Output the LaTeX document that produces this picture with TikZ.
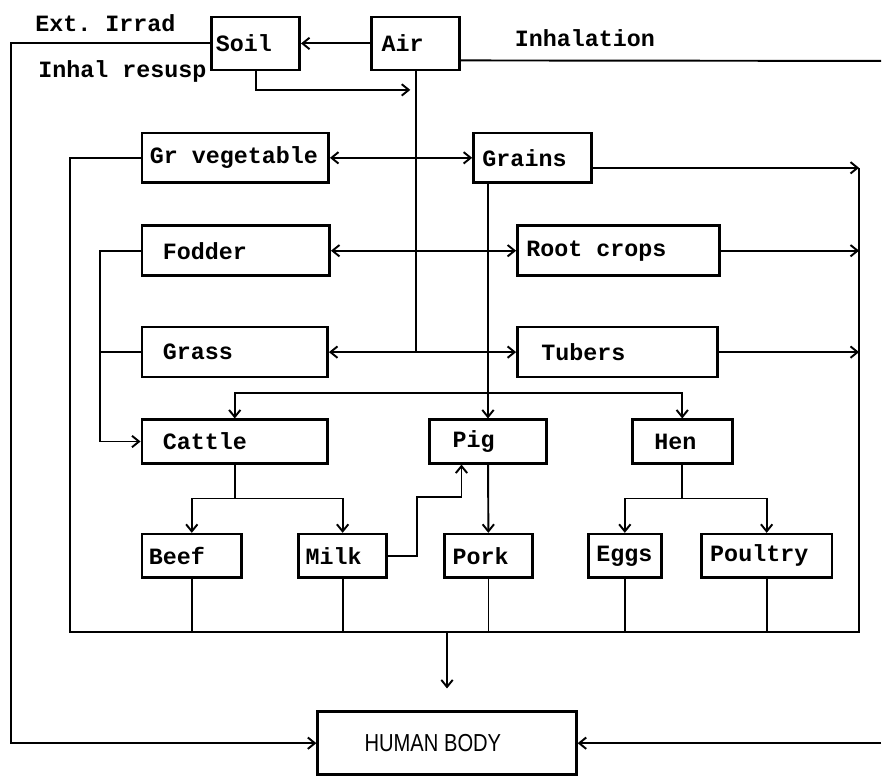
\documentclass[tikz,border=0pt]{standalone}
\usepackage{fontspec}
\usetikzlibrary{arrows.meta}
\newfontfamily\dotfont{Liberation Mono}
\newfontfamily\bodyfont[FakeStretch=0.82]{Liberation Sans}

\begin{document}
\begin{tikzpicture}[x=0.02cm,y=-0.02cm,
  every node/.style={font=\dotfont\bfseries\fontsize{13.3}{15}\selectfont},
  box/.style={draw,line width=1.5pt,inner ysep=0pt,
    execute at begin node={\spaceskip=0pt\xspaceskip=0pt}},
  hi/.style={minimum height=1cm},
  lo/.style={minimum height=0.87cm},
  lbl/.style={anchor=base west,inner sep=0pt},
  ln/.style={line width=1.1pt},
  arr/.style={ln,-{Straight Barb[length=4pt,width=6.5pt]}},
  both/.style={ln,{Straight Barb[length=4pt,width=6.5pt]}-{Straight Barb[length=4pt,width=6.5pt]}}]
  \fill[white] (0,0) rectangle (882,777);
  \node[box,text width=1.6cm,inner xsep=0.08cm,minimum height=1.06cm] (soil) at (256,43.5) {Soil};
  \node[box,text width=1.36cm,inner xsep=0.2cm,minimum height=1.06cm] (air) at (416,43.5) {Air};
  \node[box,hi,text width=3.42cm,inner xsep=0.16cm] (grveg) at (235.5,158) {Gr vegetable};
  \node[box,hi,text width=2cm,inner xsep=0.18cm] (grains) at (533,158) {Grains};
  \node[box,hi,text width=2.92cm,inner xsep=0.42cm] (fodder) at (236,251) {Fodder};
  \node[box,hi,text width=3.68cm,inner xsep=0.18cm] (roots) at (619,251) {Root crops};
  \node[box,hi,text width=2.88cm,inner xsep=0.42cm] (grass) at (235,352.5) {Grass};
  \node[box,hi,text width=3.04cm,inner xsep=0.48cm] (tubers) at (618,352.5) {Tubers};
  \node[box,lo,text width=2.88cm,inner xsep=0.42cm] (cattle) at (235,442) {Cattle};
  \node[box,lo,text width=1.42cm,inner xsep=0.46cm] (pig) at (488.5,442) {Pig};
  \node[box,lo,text width=1.12cm,inner xsep=0.44cm] (hen) at (683,442) {Hen};
  \node[box,lo,text width=1.72cm,inner xsep=0.14cm] (beef) at (192,556.5) {Beef};
  \node[box,lo,text width=1.48cm,inner xsep=0.14cm] (milk) at (343,556.5) {Milk};
  \node[box,lo,text width=1.44cm,inner xsep=0.16cm] (pork) at (489,556.5) {Pork};
  \node[box,lo,text width=1.14cm,inner xsep=0.16cm] (eggs) at (625.5,556.5) {Eggs};
  \node[box,lo,text width=2.26cm,inner xsep=0.18cm] (poultry) at (767.5,556.5) {Poultry};
  \node[box,text width=3.3cm,inner xsep=0.94cm,minimum height=1.26cm,
    font=\bodyfont\fontsize{14}{16}\selectfont] (human) at (447.5,744) {HUMAN BODY};
  \node[lbl] (ext) at (35,32) {Ext.\ Irrad};
  \node[lbl] (resusp) at (38,78) {Inhal resusp};
  \node[lbl] (inhal) at (515,47) {Inhalation};
  \coordinate (ne) at (860,168);
  \coordinate (se) at (860,633);
  \coordinate (sw) at (70,633);
  \draw[arr] (air) -- (soil);
  \draw[arr] (soil.west) -- ++(-200,0) |- (human.west);
  \draw[ln] ([yshift=-0.34cm]air.east) -- (882,61);
  \draw[arr] (human.east -| 882,0) -- (human.east);
  \draw[arr,shorten >=3pt] (soil.south) |- (air.south |- 0,90);
  \draw[ln] (air.south) -- (air.south |- grass.east);
  \draw[both] (grveg) -- (grains);
  \draw[both] (fodder) -- (roots);
  \draw[both] (grass) -- (tubers);
  \draw[arr] (grains.east |- ne) -- (ne);
  \foreach \c in {roots,tubers} \draw[arr] (\c) -- (\c -| ne);
  \draw[ln] (grveg) -| (sw) -- (se) -- (ne);
  \draw[arr] (pig.north |- grains.south) -- (pig);
  \coordinate (feed) at (pig.north |- 0,393);
  \draw[arr] (feed) -| (cattle);
  \draw[arr] (feed) -| (hen);
  \draw[arr] (fodder) -| (100,400) |- (cattle);
  \draw[ln] (grass.west) -- (grass.west -| 100,0);
  \foreach \s/\k in {cattle/beef,cattle/milk,hen/eggs,hen/poultry}
    \draw[arr] (\s.south) -- ++(0,34) -| (\k);
  \draw[arr] (pig) -- (pork);
  \draw[arr] (milk.east) -- ++(29,0) |- (462,498) -- (pig.south -| 462,0);
  \foreach \p in {beef,milk,pork,eggs,poultry} \draw[ln] (\p) -- (\p |- sw);
  \draw[arr,shorten >=0.44cm] (human.north |- sw) -- (human.north);
\end{tikzpicture}
\end{document}
